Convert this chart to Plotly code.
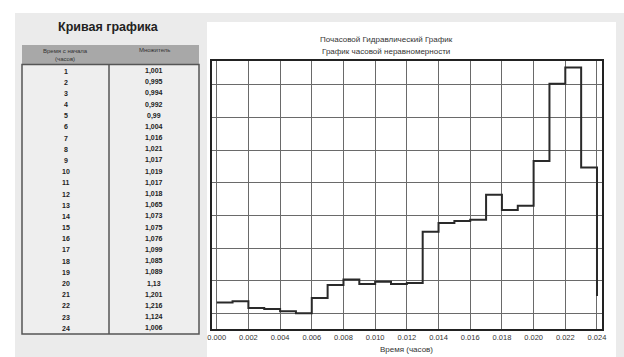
import plotly.graph_objects as go

hours = list(range(1, 25))
multipliers = [1.001, 0.995, 0.994, 0.992, 0.99, 1.004, 1.016, 1.021, 1.017, 1.019,
               1.017, 1.018, 1.065, 1.073, 1.075, 1.076, 1.099, 1.085, 1.089, 1.13,
               1.201, 1.216, 1.124, 1.006]
multiplier_labels = ["1,001", "0,995", "0,994", "0,992", "0,99", "1,004", "1,016", "1,021",
                     "1,017", "1,019", "1,017", "1,018", "1,065", "1,073", "1,075", "1,076",
                     "1,099", "1,085", "1,089", "1,13", "1,201", "1,216", "1,124", "1,006"]
start_value = 1.000
time_step = 0.001
x_ticks = [i * 0.002 for i in range(13)]

W, H = 624, 357
L, R, T, B = 212, 602, 61, 329


def xp(px):
    return (px - L) / (R - L)


def yp(py):
    return (B - py) / (B - T)


x_vals = [0.0] + [h * time_step for h in hours]
y_vals = [start_value] + multipliers

fig = go.Figure()
fig.add_trace(go.Scatter(x=x_vals, y=y_vals, mode="lines", line_shape="hv",
                         line=dict(color="#2a2a2a", width=2), hoverinfo="skip",
                         showlegend=False))

FONT = "Liberation Sans, Arial, sans-serif"
shapes = [
    dict(type="rect", xref="paper", yref="paper", x0=xp(15), x1=xp(624), y0=yp(13), y1=yp(357),
         fillcolor="#ebebeb", line=dict(width=0), layer="below"),
    dict(type="rect", xref="paper", yref="paper", x0=xp(207), x1=xp(616), y0=yp(22), y1=yp(357),
         fillcolor="#ffffff", line=dict(width=0), layer="below"),
    dict(type="rect", xref="paper", yref="paper", x0=xp(22), x1=xp(199), y0=yp(45), y1=yp(64.5),
         fillcolor="#a8a8a8", line=dict(width=0), layer="below"),
    dict(type="rect", xref="paper", yref="paper", x0=xp(22), x1=xp(199), y0=yp(64.5), y1=yp(334),
         fillcolor="#eeeeee", line=dict(color="#555555", width=1.5), layer="below"),
    dict(type="line", xref="paper", yref="paper", x0=xp(109), x1=xp(109), y0=yp(64.5), y1=yp(334),
         line=dict(color="#555555", width=1.5), layer="below"),
]

annotations = [
    dict(text="Почасовой Гидравлический График", x=xp(386), y=yp(40), xref="paper", yref="paper",
         showarrow=False, xanchor="center", yanchor="middle",
         font=dict(family=FONT, size=8, color="#333333")),
    dict(text="График часовой неравномерности", x=xp(386), y=yp(51), xref="paper", yref="paper",
         showarrow=False, xanchor="center", yanchor="middle",
         font=dict(family=FONT, size=8, color="#333333")),
    dict(text="Время (часов)", x=xp(406), y=yp(349.5), xref="paper", yref="paper",
         showarrow=False, xanchor="center", yanchor="middle",
         font=dict(family=FONT, size=8, color="#333333")),
    dict(text="<b>Кривая графика</b>", x=xp(108), y=yp(27), xref="paper", yref="paper",
         showarrow=False, xanchor="center", yanchor="middle",
         font=dict(family=FONT, size=12.5, color="#222222")),
    dict(text="Время с начала<br>(часов)", x=xp(65.5), y=yp(54.5), xref="paper", yref="paper",
         showarrow=False, xanchor="center", yanchor="middle",
         font=dict(family=FONT, size=6, color="#333333")),
    dict(text="Множитель", x=xp(154), y=yp(50.5), xref="paper", yref="paper",
         showarrow=False, xanchor="center", yanchor="middle",
         font=dict(family=FONT, size=6, color="#333333")),
]
row_h = (328.3 - 71) / 23
for i, (h, lab) in enumerate(zip(hours, multiplier_labels)):
    yy = 71 + i * row_h
    annotations.append(dict(text=f"<b>{h}</b>", x=xp(65.5), y=yp(yy), xref="paper", yref="paper",
                            showarrow=False, xanchor="center", yanchor="middle",
                            font=dict(family=FONT, size=7, color="#222222")))
    annotations.append(dict(text=f"<b>{lab}</b>", x=xp(154), y=yp(yy), xref="paper", yref="paper",
                            showarrow=False, xanchor="center", yanchor="middle",
                            font=dict(family=FONT, size=7, color="#222222")))

fig.update_layout(
    width=W, height=H,
    margin=dict(l=L, r=W - R, t=T, b=H - B, pad=0),
    paper_bgcolor="#ffffff", plot_bgcolor="#ffffff",
    shapes=shapes, annotations=annotations,
    xaxis=dict(range=[-0.000297, 0.024316], tickmode="array", tickvals=x_ticks,
               ticktext=[f"{v:.3f}" for v in x_ticks], showgrid=True, gridcolor="#6a6a6a",
               gridwidth=1.3, zeroline=False, showline=True, linecolor="#222222", linewidth=2,
               mirror=True, ticks="", tickfont=dict(family=FONT, size=7.5, color="#333333")),
    yaxis=dict(range=[0.9756, 1.222], tick0=0.99, dtick=0.03, showgrid=True,
               gridcolor="#6a6a6a", gridwidth=1.3, zeroline=False, showline=True,
               linecolor="#222222", linewidth=2, mirror=True, showticklabels=False, ticks=""),
)

fig.write_html("out.html", config={"displayModeBar": False},
               post_script="document.body.style.margin='0px';document.body.style.overflow='hidden';")
